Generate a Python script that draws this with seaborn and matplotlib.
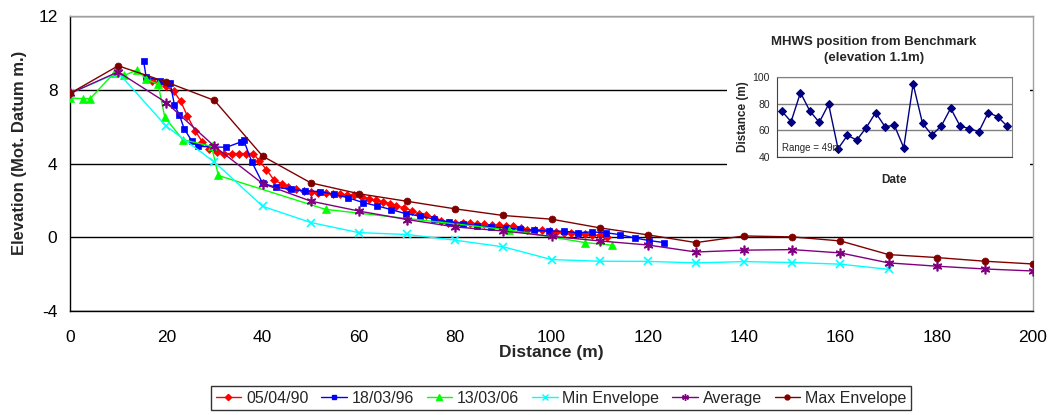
import matplotlib
matplotlib.use("Agg")
import matplotlib.pyplot as plt
import seaborn as sns
from matplotlib.lines import Line2D

# ---------------- data ----------------
red_x = [17.0, 18.5, 19.9, 21.5, 23.0, 24.4, 26.0, 27.5, 28.9, 30.5, 32.0, 33.6, 35.1, 36.5, 38.1,
         39.3, 40.8, 42.4, 44.0, 45.3, 46.9, 48.5, 50.0, 51.6, 53.1, 54.6, 56.1, 57.6, 59.0, 60.6,
         62.0, 63.5, 65.0, 66.5, 67.8, 69.4, 71.0, 72.5, 74.0, 75.5, 77.0, 78.6, 80.0, 81.6, 83.1,
         84.6, 86.0, 87.6, 89.0, 90.5, 92.0, 93.6, 95.0, 96.5, 98.1, 99.6, 101.0, 102.5, 104.0,
         105.6, 107.0, 108.5, 110.0, 111.5]
red_y = [8.45, 8.35, 8.2, 7.93, 7.37, 6.56, 5.77, 5.17, 4.81, 4.63, 4.54, 4.54, 4.54, 4.54, 4.54,
         4.14, 3.67, 3.09, 2.9, 2.72, 2.6, 2.52, 2.46, 2.42, 2.38, 2.36, 2.33, 2.31, 2.31, 2.19,
         2.1, 2.0, 1.92, 1.83, 1.68, 1.61, 1.43, 1.25, 1.19, 1.07, 0.89, 0.8, 0.8, 0.8, 0.8,
         0.7, 0.7, 0.65, 0.65, 0.6, 0.6, 0.52, 0.42, 0.38, 0.38, 0.34, 0.29, 0.23, 0.23,
         0.2, 0.2, 0.11, 0.11, 0.02]

blue_x = [15.3, 15.8, 18.7, 20.8, 21.7, 22.7, 23.7, 25.3, 26.6, 29.5, 32.5, 35.5, 36.1, 37.8, 40.0,
          42.8, 45.9, 48.8, 51.9, 54.8, 57.8, 60.9, 63.8, 66.7, 69.7, 72.7, 75.7, 78.7, 81.6, 84.6,
          87.5, 90.5, 93.5, 96.4, 99.5, 102.5, 105.4, 108.5, 111.4, 114.3, 117.3, 120.3, 123.4]
blue_y = [9.55, 8.7, 8.5, 8.38, 7.16, 6.65, 5.89, 5.22, 4.93, 4.9, 4.88, 5.17, 5.25, 4.06, 2.93,
          2.71, 2.6, 2.51, 2.48, 2.33, 2.14, 1.88, 1.7, 1.5, 1.28, 1.15, 0.98, 0.83, 0.74, 0.61,
          0.56, 0.5, 0.43, 0.38, 0.33, 0.33, 0.25, 0.29, 0.24, 0.14, -0.04, -0.18, -0.29]

green_x = [0, 2.6, 4.2, 9.2, 11.3, 13.9, 15.8, 18.3, 19.7, 23.4, 29.4, 30.8, 53.1, 91.1, 107.0, 112.5]
green_y = [7.55, 7.52, 7.52, 8.92, 8.78, 9.07, 8.58, 8.3, 6.5, 5.3, 4.93, 3.35, 1.51, 0.4, -0.29, -0.43]

min_x = [0, 10, 20, 30, 40, 50, 60, 70, 80, 90, 100, 110, 120, 130, 140, 150, 160, 170]
min_y = [7.8, 8.93, 6.02, 4.08, 1.68, 0.8, 0.25, 0.15, -0.16, -0.52, -1.21, -1.3, -1.31, -1.39,
         -1.32, -1.37, -1.46, -1.74]

env_x = [0, 10, 20, 30, 40, 50, 60, 70, 80, 90, 100, 110, 120, 130, 140, 150, 160, 170, 180, 190, 200]
avg_y = [7.8, 8.97, 7.3, 4.93, 2.91, 1.96, 1.42, 0.96, 0.56, 0.34, 0.05, -0.2, -0.42, -0.8, -0.7,
         -0.67, -0.85, -1.39, -1.57, -1.72, -1.83]
max_y = [7.8, 9.3, 8.42, 7.42, 4.4, 2.95, 2.36, 1.95, 1.54, 1.18, 0.98, 0.51, 0.13, -0.29, 0.07,
         0.02, -0.2, -0.94, -1.1, -1.3, -1.45]

inset_idx = list(range(25))
inset_y = [74.5, 66.5, 88.4, 74.5, 66.0, 79.6, 46.0, 56.1, 52.6, 61.9, 73.3, 62.7, 63.7, 46.8, 95.0,
           65.2, 56.4, 63.2, 76.6, 63.2, 61.2, 58.9, 73.3, 70.3, 63.2]

series_labels = ["05/04/90", "18/03/96", "13/03/06", "Min Envelope", "Average", "Max Envelope"]
x_ticks = [0, 20, 40, 60, 80, 100, 120, 140, 160, 180, 200]
y_ticks = [-4, 0, 4, 8, 12]

# ---------------- style ----------------
sns.set_theme(style="white")
plt.rcParams['font.family'] = ['Liberation Sans', 'DejaVu Sans']
plt.rcParams['axes.unicode_minus'] = False

fig = plt.figure(figsize=(10.53, 4.15), dpi=100)
ax = fig.add_axes([70/1053, 1-311/415, (1033-70)/1053, (311-16)/415])
ax.set_facecolor("white")

asterisk = (6, 2, 0)
specs = [
    (red_x, red_y, "#FF0000", "D", 4.5, series_labels[0]),
    (blue_x, blue_y, "#0000FF", "s", 5, series_labels[1]),
    (green_x, green_y, "#00FF00", "^", 6, series_labels[2]),
    (min_x, min_y, "#00FFFF", "x", 6, series_labels[3]),
    (env_x, avg_y, "#800080", asterisk, 7, series_labels[4]),
    (env_x, max_y, "#800000", "o", 5, series_labels[5]),
]
for i, (xs, ys, c, m, ms, lab) in enumerate(specs):
    sns.lineplot(x=xs, y=ys, ax=ax, color=c, marker=m, markersize=ms, markeredgecolor=c,
                 markerfacecolor=c, markeredgewidth=1.2 if m in ("x", asterisk) else 0.5,
                 linewidth=1.0, sort=False, estimator=None, label=lab, legend=False, zorder=3 + i)

ax.set_xlim(0, 200)
ax.set_ylim(-4, 12)
ax.set_xticks(x_ticks)
ax.set_yticks(y_ticks)
ax.tick_params(axis='both', which='major', labelsize=12.5, direction='out', length=5,
               width=1, color='black', labelcolor='black')
ax.tick_params(axis='x', pad=9)
ax.tick_params(axis='y', pad=4)
ax.yaxis.grid(True, color='black', linewidth=1.0, zorder=1)
ax.xaxis.grid(False)
ax.set_axisbelow(True)
for s in ("left", "bottom"):
    ax.spines[s].set_color("black")
    ax.spines[s].set_linewidth(1.0)
for s in ("top", "right"):
    ax.spines[s].set_color("#A0A0A0")
    ax.spines[s].set_linewidth(1.0)

ax.set_xlabel("Distance (m)", fontsize=12.5, fontweight='bold', labelpad=0)
ax.set_ylabel("Elevation (Mot. Datum m.)", fontsize=12, fontweight='bold')
ax.yaxis.set_label_coords(-0.045, 0.536)

# legend
handles = [Line2D([0], [0], color=c, marker=m, markersize=ms * 0.7, markeredgecolor=c,
                  markerfacecolor=c, linewidth=1.0) for (_, _, c, m, ms, _) in specs]
leg_font = {'family': ['Liberation Sans Narrow', 'Liberation Sans'], 'size': 11.5}
leg = fig.legend(handles, series_labels, loc='center', bbox_to_anchor=(561/1053, 1-398/415),
                 ncol=6, frameon=True, prop=leg_font, handlelength=1.6, handletextpad=0.3,
                 columnspacing=0.8, borderpad=0.3, fancybox=False)
leg.get_frame().set_edgecolor('black')
leg.get_frame().set_linewidth(1.0)

# inset background (chart area)
bg = fig.add_axes([727/1053, 1-185/415, (1030-727)/1053, (185-20)/415])
bg.set_facecolor('white')
bg.set_xticks([]); bg.set_yticks([])
for s in bg.spines.values():
    s.set_visible(False)
bg.set_zorder(5)

ins = fig.add_axes([777/1053, 1-156.7/415, (1011.7-777)/1053, (156.7-77.3)/415])
ins.set_zorder(6)
ins.set_facecolor('white')
sns.lineplot(x=inset_idx, y=inset_y, ax=ins, color='#000080', marker='D', markersize=4,
             markeredgecolor='#000080', markerfacecolor='#000080', linewidth=1.0,
             sort=False, estimator=None, legend=False)
ins.set_xlim(-0.5, 24.5)
ins.set_ylim(40, 100)
ins.set_yticks([40, 60, 80, 100])
ins.set_xticks([i - 0.5 for i in range(26)])
ins.set_xticklabels([])
ins.tick_params(axis='x', direction='out', length=3, width=0.8, color='black')
ins.tick_params(axis='y', direction='out', length=3, width=0.8, color='black', labelsize=7.5, pad=2)
ins.yaxis.grid(True, color='#808080', linewidth=1.0)
ins.set_axisbelow(True)
for s in ("left", "bottom"):
    ins.spines[s].set_color("#404040")
    ins.spines[s].set_linewidth(0.8)
for s in ("top", "right"):
    ins.spines[s].set_color("#808080")
    ins.spines[s].set_linewidth(0.8)
ins.set_ylabel("Distance (m)", fontsize=8.5, fontweight='bold', labelpad=3)
ins.set_xlabel("Date", fontsize=8.5, fontweight='bold', labelpad=6)
ins.text(0.02, 0.05, "Range = 49m", transform=ins.transAxes, fontsize=7, ha='left', va='bottom')
fig.text(874/1053, 1-50/415, "MHWS position from Benchmark\n(elevation 1.1m)", ha='center',
         va='center', fontsize=9.5, fontweight='bold', linespacing=1.35, zorder=7)

fig.savefig("out.png", dpi=100)
